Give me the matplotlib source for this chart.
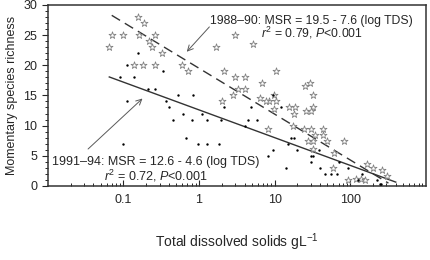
import numpy as np
import matplotlib.pyplot as plt
from matplotlib.ticker import MultipleLocator, LogLocator, NullFormatter

# 1988-90 samples (open stars): TDS (g/L), species richness
tds_8890 = [0.154, 0.185, 0.071, 0.1, 0.163, 0.215, 0.26, 0.236, 0.065, 0.32,
            0.14, 0.18, 0.26, 0.59, 0.71, 1.69, 3.0, 5.1,
            2.15, 3.0, 4.1, 6.9, 10.3, 3.3, 2.84, 4.1, 6.5, 8.3, 9.7, 2.03,
            7.6, 8.1, 29, 25, 32, 10.3, 15.4, 18.5, 32, 26, 30, 17.9, 9.7,
            17.4, 24.4, 30, 44, 34, 44, 27.5, 32, 49, 83, 32, 61, 59, 94,
            169, 203, 267, 311, 120, 140, 158]
msr_8890 = [28, 27, 25, 25, 25, 24, 25, 23, 23, 22,
            20, 20, 20, 20, 19, 23, 25, 23.5,
            19, 18, 18, 17, 19, 16, 15, 16, 14.5, 14, 15, 14,
            14, 9.5, 17, 16.5, 15, 14, 13, 13, 13, 12.5, 12.5, 12, 12.8,
            10, 9.5, 9.5, 9.5, 8.4, 8.4, 7.4, 7.4, 7.5, 7.5, 6.2, 5.5, 2.9, 0.9,
            3.6, 2.9, 2.7, 1.7, 1.2, 1.2, 1.0]

# 1991-94 samples (black dots)
tds_9194 = [0.154, 0.11, 0.33, 0.091, 0.14, 0.21, 0.26, 0.52, 0.83, 0.11,
            0.37, 0.40, 0.61, 0.45, 0.81, 1.28, 1.97, 4.5, 5.9, 1.1, 0.67,
            0.1, 0.97, 1.26, 1.85, 2.15, 4.8, 4.1, 8.1, 9.4, 9.4, 14.9, 16.3,
            17.9, 20, 30, 14, 30, 40, 46, 56, 67, 71, 94, 128, 229, 244, 259,
            12, 32, 39, 145]
msr_9194 = [22, 20, 19, 18, 18, 16, 16, 15, 15, 14,
            14, 13, 12, 11, 11, 11, 11, 11, 11, 12, 8,
            7, 7, 7, 7, 13, 13, 10, 5, 15, 6, 7, 8,
            8, 6, 4, 3, 5, 3, 2, 2, 2, 4, 3, 1, 1, 0.3, 0.3,
            13, 5, 6, 2]

# regression fits: MSR = a - b * log10(TDS)
fit_8890 = (19.5, 7.6)
fit_9194 = (12.6, 4.6)
range_8890 = (0.07, 320)
range_9194 = (0.065, 400)

plt.rcParams['font.family'] = ['Liberation Sans', 'DejaVu Sans']
plt.rcParams['mathtext.fontset'] = 'custom'
plt.rcParams['mathtext.rm'] = 'Liberation Sans'
plt.rcParams['mathtext.it'] = 'Liberation Sans:italic'

fig = plt.figure(figsize=(4.31, 2.60), dpi=100)
ax = fig.add_axes([0.111, 0.285, 0.877, 0.696])

ax.scatter(tds_8890, msr_8890, marker='*', s=28, facecolors='white',
           edgecolors='0.5', linewidths=0.6, zorder=3, clip_on=False)
ax.scatter(tds_9194, msr_9194, marker='o', s=3, color='black',
           linewidths=0, zorder=4, clip_on=False)

xs = np.logspace(np.log10(range_8890[0]), np.log10(range_8890[1]), 50)
ax.plot(xs, fit_8890[0] - fit_8890[1] * np.log10(xs), color='0.2', lw=1.0,
        dashes=(7, 4), zorder=2)
xs = np.logspace(np.log10(range_9194[0]), np.log10(range_9194[1]), 50)
ax.plot(xs, fit_9194[0] - fit_9194[1] * np.log10(xs), color='0.2', lw=1.0,
        zorder=2)

ax.set_xscale('log')
ax.set_xlim(0.01, 1000)
ax.set_ylim(0, 30)

ax.set_xticks([0.1, 1, 10, 100])
ax.set_xticklabels(['0.1', '1', '10', '100'])
ax.xaxis.set_minor_locator(LogLocator(base=10, subs=np.arange(2, 10)))
ax.xaxis.set_minor_formatter(NullFormatter())
ax.yaxis.set_major_locator(MultipleLocator(5))
ax.yaxis.set_minor_locator(MultipleLocator(1))

ax.tick_params(axis='x', which='both', direction='in', labelsize=9,
               colors='0.15', pad=6)
ax.tick_params(axis='x', which='major', length=4, width=0.8)
ax.tick_params(axis='x', which='minor', length=2.5, width=0.7)
ax.tick_params(axis='y', which='both', direction='out', labelsize=9,
               colors='0.15')
ax.tick_params(axis='y', which='major', length=4, width=0.8)
ax.tick_params(axis='y', which='minor', length=2.5, width=0.7)
for sp in ax.spines.values():
    sp.set_linewidth(1.1)
    sp.set_color('0.2')

ax.set_xlabel(r'Total dissolved solids gL$^{-1}$', fontsize=10, color='0.15',
              labelpad=18)
ax.set_ylabel('Momentary species richness', fontsize=9, color='0.15',
              labelpad=4)

# annotations
ax.text(31, 27.4, '1988\u201390: MSR = 19.5 - 7.6 (log TDS)', ha='center',
        va='center', fontsize=8.8, color='0.15')
ax.text(31, 25.3, r'$r^2$ = 0.79, $P$<0.001', ha='center', va='center',
        fontsize=8.8, color='0.15')
ax.annotate('', xy=(0.65, 21.9), xytext=(1.45, 26.7),
            arrowprops=dict(arrowstyle='->', color='0.35', lw=0.7))

ax.text(0.267, 3.9, '1991\u201394: MSR = 12.6 - 4.6 (log TDS)', ha='center',
        va='center', fontsize=9, color='0.15')
ax.text(0.267, 1.7, r'$r^2$ = 0.72, $P$<0.001', ha='center', va='center',
        fontsize=9, color='0.15')
ax.annotate('', xy=(0.19, 14.8), xytext=(0.032, 5.8),
            arrowprops=dict(arrowstyle='->', color='0.35', lw=0.7))

fig.savefig('out.png', dpi=100)
